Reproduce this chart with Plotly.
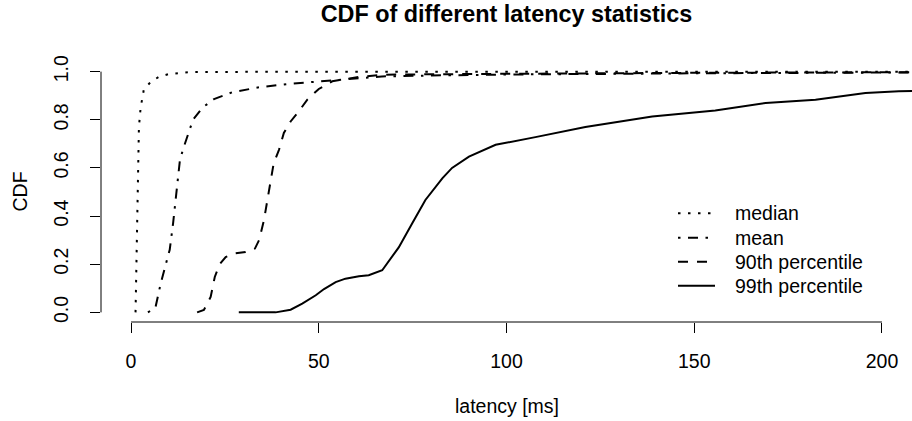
import plotly.graph_objects as go

# latency (ms) / CDF pairs
median_x = [1.2, 1.5, 1.75, 2.1, 2.55, 3.4, 5.2, 7.4, 10.1, 15.4, 30, 60, 100, 150, 215]
median_y = [0.0, 0.26, 0.54, 0.77, 0.85, 0.925, 0.957, 0.978, 0.99, 0.998, 0.999, 1.0, 1.0, 1.0, 1.0]

mean_x = [4.5, 6.5, 7.9, 9.2, 10.3, 11.2, 11.9, 12.5, 13.0, 13.8, 15.0, 16.5, 19.0, 22.1,
          26.9, 34.1, 42.0, 50.0, 58.0, 66.8, 80, 100, 150, 200, 215]
mean_y = [0.0, 0.02, 0.12, 0.2, 0.26, 0.37, 0.47, 0.54, 0.63, 0.675, 0.73, 0.80, 0.85, 0.886,
          0.914, 0.935, 0.949, 0.958, 0.97, 0.98, 0.984, 0.988, 0.993, 0.996, 0.997]

p90_x = [17.6, 19.4, 21.2, 22.3, 23.6, 25.2, 27.8, 30.5, 33.0, 34.1, 35.4, 36.3, 37.2, 38.0,
         39.4, 40.7, 42.5, 44.7, 46.9, 50.0, 53.6, 60.7, 67.8, 80, 100, 150, 200, 215]
p90_y = [0.0, 0.01, 0.064, 0.147, 0.2, 0.23, 0.245, 0.251, 0.265, 0.3, 0.383, 0.467, 0.536, 0.62,
         0.675, 0.745, 0.793, 0.835, 0.883, 0.928, 0.96, 0.978, 0.9875, 0.99, 0.991, 0.995, 0.998, 0.998]

p99_x = [28.7, 38.5, 42.5, 45.6, 49.2, 51.4, 54.5, 57.1, 60.7, 63.3, 66.9, 69.1, 71.3, 74.9,
         78.4, 82.9, 85.5, 90.0, 97.1, 107.7, 121.0, 138.8, 155.6, 169.0, 182.3, 195.6, 204.5, 215]
p99_y = [0.0, 0.0, 0.011, 0.036, 0.071, 0.097, 0.126, 0.14, 0.15, 0.154, 0.175, 0.222, 0.27, 0.37,
         0.467, 0.557, 0.6, 0.647, 0.696, 0.728, 0.77, 0.814, 0.839, 0.87, 0.883, 0.911, 0.918, 0.922]

series_names = ["median", "mean", "90th percentile", "99th percentile"]
x_ticks = [0, 50, 100, 150, 200]
y_ticks = [0.0, 0.2, 0.4, 0.6, 0.8, 1.0]
y_tick_text = ["0.0", "0.2", "0.4", "0.6", "0.8", "1.0"]

# R lty: dotted, dotdash, dashed, solid
dashes = ["2.5px,7.5px", "2.5px,7.5px,10px,7.5px", "10px,9px", "solid"]
lw = 2
font = "Liberation Sans, Arial, Helvetica, sans-serif"
fs = 19.5

W, H = 912, 421
L, R, T, B = 101, 0, 62, 99
pw, ph = W - L - R, H - T - B


def px_x(p):
    return (p - L) / pw


def px_y(p):
    return (H - B - p) / ph


fig = go.Figure()
for i, (xs, ys) in enumerate([(median_x, median_y), (mean_x, mean_y),
                              (p90_x, p90_y), (p99_x, p99_y)]):
    fig.add_trace(go.Scatter(
        x=xs, y=ys, mode="lines", name=series_names[i], showlegend=False,
        line=dict(color="black", width=lw, dash=dashes[i]),
    ))

# R style axis lines: only from first to last tick
fig.add_shape(type="line", xref="x", yref="paper", x0=x_ticks[0], x1=x_ticks[-1], y0=0, y1=0,
              line=dict(color="black", width=1))
fig.add_shape(type="line", xref="paper", yref="y", x0=0, x1=0, y0=y_ticks[0], y1=y_ticks[-1],
              line=dict(color="black", width=1))

# legend, drawn like R's legend()
rows = [213.3, 237.7, 261.7, 285.7]
for i, name in enumerate(series_names):
    fig.add_shape(type="line", xref="paper", yref="paper",
                  x0=px_x(678), x1=px_x(715), y0=px_y(rows[i]), y1=px_y(rows[i]),
                  line=dict(color="black", width=lw, dash=dashes[i]))
    fig.add_annotation(text=name, xref="paper", yref="paper", x=px_x(733), y=px_y(rows[i]),
                       xanchor="left", yanchor="middle", showarrow=False,
                       font=dict(size=fs))

# axis titles
fig.add_annotation(text="latency [ms]", xref="paper", yref="paper", x=0.5, y=px_y(405.5),
                   xanchor="center", yanchor="middle", showarrow=False, font=dict(size=fs))
fig.add_annotation(text="CDF", xref="paper", yref="paper", x=px_x(19.5), y=0.5, textangle=-90,
                   xanchor="center", yanchor="middle", showarrow=False, font=dict(size=fs))

fig.update_layout(
    width=W, height=H,
    margin=dict(l=L, r=R, t=T, b=B),
    paper_bgcolor="white", plot_bgcolor="white",
    font=dict(family=font, size=fs, color="black"),
    title=dict(text="<b>CDF of different latency statistics</b>", x=0.5, xref="paper",
               xanchor="center", y=1 - 13.5 / H, yref="container", yanchor="middle",
               font=dict(size=fs * 1.2)),
    showlegend=False,
    xaxis=dict(range=[-8, 208], tickvals=x_ticks, ticks="outside", ticklen=10,
               tickcolor="black", showgrid=False, zeroline=False, showline=False,
               ticklabelstandoff=12, tickfont=dict(size=fs), automargin=False),
    yaxis=dict(range=[-0.04, 1.04], tickvals=y_ticks, ticktext=y_tick_text, ticks="outside",
               ticklen=10, tickcolor="black", tickangle=-90, showgrid=False, zeroline=False,
               showline=False, ticklabelstandoff=14, tickfont=dict(size=fs), automargin=False),
)

# drop the browser's default 8px body margin so the figure sits at the page corner
fig.write_html("out.html", config={"displayModeBar": False},
               post_script="document.body.style.margin = '0px';")
